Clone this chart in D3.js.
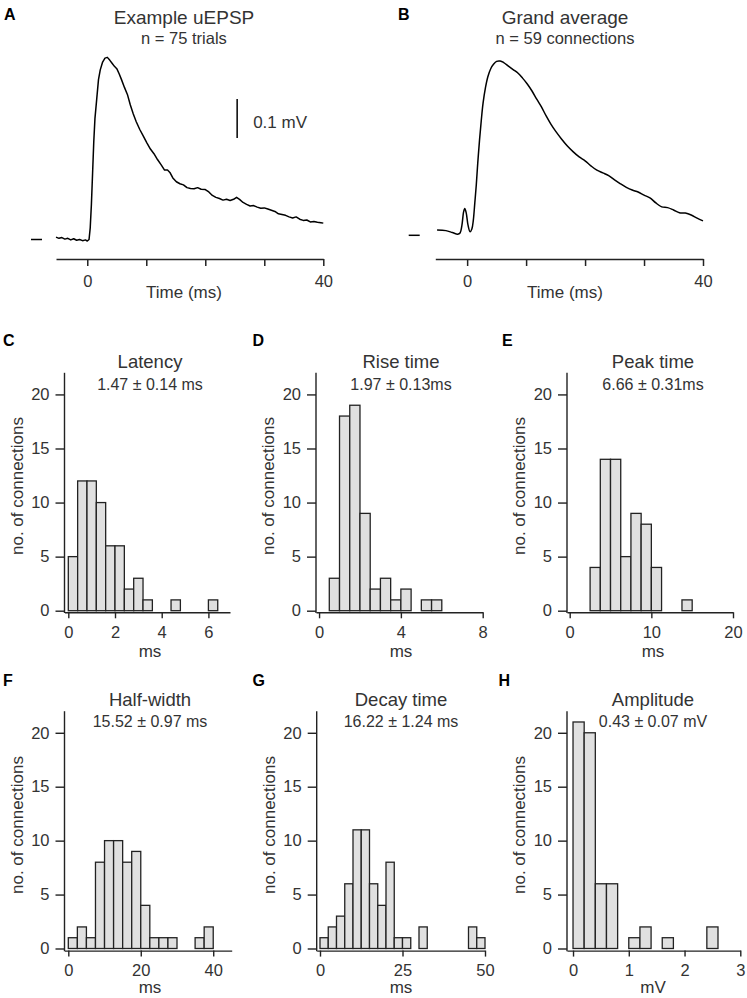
<!DOCTYPE html>
<html><head><meta charset="utf-8">
<script src="https://cdn.jsdelivr.net/npm/d3@7/dist/d3.min.js"></script>
<style>
body{margin:0;background:#fff}
text{font-family:"Liberation Sans",Arial,Helvetica,sans-serif;fill:#333}
</style>
</head><body>
<svg id="chart" width="747" height="998"></svg>
<script>
// ---------- DATA ----------
// Panel A: example uEPSP (time ms, mV)
const traceATime = [-5.3,-4.8,-4.3,-3.8,-3.3,-2.8,-2.3,-1.8,-1.3,-0.8,-0.3,0.0,0.3,0.5,0.7,0.9,1.1,1.3,1.6,1.9,2.2,2.6,3.0,3.4,3.8,4.2,4.6,5.0,5.4,5.8,6.3,6.8,7.3,7.8,8.3,8.9,9.5,10.1,10.7,11.3,11.9,12.5,13.1,13.6,14.0,14.5,15.1,15.7,16.3,16.9,17.5,18.1,18.7,19.3,20.0,20.6,21.2,21.8,22.4,23.0,23.6,24.2,24.8,25.3,25.8,26.4,27.0,27.6,28.2,28.8,29.4,30.0,30.6,31.2,31.8,32.4,33.0,33.6,34.2,34.8,35.4,36.0,36.6,37.2,37.8,38.4,39.0,39.6,40.0];
const traceAValue = [0.006,0.003,0.005,0.001,0.003,-0.001,0.002,-0.002,0.0,-0.003,-0.001,-0.004,0.0,0.03,0.09,0.17,0.25,0.31,0.36,0.41,0.435,0.455,0.465,0.467,0.46,0.452,0.444,0.438,0.425,0.41,0.39,0.372,0.345,0.322,0.302,0.282,0.265,0.248,0.232,0.22,0.205,0.192,0.178,0.178,0.172,0.158,0.148,0.143,0.14,0.133,0.131,0.13,0.133,0.129,0.128,0.122,0.113,0.108,0.105,0.101,0.103,0.1,0.103,0.108,0.103,0.095,0.09,0.086,0.087,0.083,0.08,0.081,0.078,0.075,0.072,0.066,0.064,0.062,0.058,0.055,0.058,0.052,0.049,0.05,0.045,0.046,0.044,0.043,0.042];
// Panel B: grand average
const traceBTime = [-5.1,-3.6,-2.5,-1.6,-1.2,-0.9,-0.6,-0.4,-0.15,0.15,0.5,0.8,1.05,1.3,1.55,1.8,2.1,2.4,2.7,3.1,3.5,4.0,4.5,5.0,5.6,6.2,7.0,7.8,8.6,9.4,10.2,11.0,11.8,12.6,13.4,14.2,15.0,16.0,17.0,18.0,19.0,20.0,21.0,22.0,23.0,24.0,25.0,26.0,27.0,28.0,29.0,30.0,31.0,32.0,33.0,34.0,35.0,36.0,37.0,38.0,39.0,40.0];
const traceBValue = [0.0136,0.012,0.007,0.003,0.006,0.024,0.06,0.069,0.057,0.026,0.009,0.016,0.039,0.083,0.129,0.185,0.244,0.295,0.339,0.378,0.406,0.427,0.439,0.446,0.447,0.443,0.434,0.425,0.416,0.403,0.388,0.37,0.349,0.329,0.306,0.285,0.267,0.247,0.229,0.214,0.201,0.191,0.178,0.167,0.16,0.153,0.142,0.132,0.123,0.116,0.111,0.103,0.096,0.083,0.073,0.071,0.065,0.058,0.057,0.052,0.044,0.037];
const timeTicks = [0,10,20,30,40];
const scaleBarValues = [0.26,0.36];   // 0.1 mV
const scaleBarTime = 25.4;

// Histograms: counts per bin, first bin start, bin width
const latencyCounts = [5,12,12,10,6,6,2,3,1,0,0,1,0,0,0,1];
const latencyStart = 0, latencyWidth = 0.4, latencyTicks = [0,2,4,6];
const riseCounts = [3,18,19,9,2,3,1,2,0,1,1];
const riseStart = 0.5, riseWidth = 0.5, riseTicks = [0,4,8];
const peakCounts = [4,14,14,5,9,8,4,0,0,1];
const peakStart = 2.5, peakWidth = 1.25, peakTicks = [0,10,20];
const halfCounts = [1,2,1,8,10,10,8,9,4,1,1,1,0,0,1,2];
const halfStart = 0, halfWidth = 2.5, halfTicks = [0,20,40];
const decayCounts = [1,2,3,6,11,11,6,4,8,1,1,0,2,0,0,0,0,0,2,1];
const decayStart = 0, decayWidth = 2.5, decayTicks = [0,25,50];
const ampCounts = [21,20,6,6,0,1,2,0,1,0,0,0,2];
const ampStart = 0, ampWidth = 0.2, ampTicks = [0,1,2,3];
const countTicks = [0,5,10,15,20];

// ---------- DRAW ----------
const svg = d3.select('#chart');
const INK = '#222';
const FONT = '"Liberation Sans",Arial,Helvetica,sans-serif';
const fmt = d3.format('~g');

function letter(t, x, y){
  svg.append('text').attr('x',x).attr('y',y).text(t)
    .style('font-weight','bold').style('font-size','16px').style('fill','#000');
}
function ctext(t, x, y, size){
  return svg.append('text').attr('x',x).attr('y',y).attr('text-anchor','middle')
    .style('font-size', size+'px').text(t);
}

// trace panels
function tracePanel(o){
  const x = d3.scaleLinear().domain(o.xd).range(o.xr);
  const y = d3.scaleLinear().domain([0,0.5]).range([o.y0, o.y0-0.5*390]);
  letter(o.letter, o.lx, 19.5);
  ctext(o.title, o.cx, 23.5, 19);
  ctext(o.sub, o.cx, 44, 16.5);
  const g = svg.append('g');
  const pts = o.t.map((t,i)=>[t,o.v[i]]);
  g.append('path').datum(pts)
    .attr('d', d3.line().x(d=>x(d[0])).y(d=>y(d[1])).curve(o.curve))
    .attr('fill','none').attr('stroke','#000').attr('stroke-width',1.5).attr('stroke-linejoin','round');
  // baseline marker
  g.append('line').attr('x1',o.mx[0]).attr('x2',o.mx[1]).attr('y1',y(0)).attr('y2',y(0))
    .attr('stroke','#000').attr('stroke-width',1.5);
  const ax = g.append('g').attr('transform',`translate(0,${o.axisY})`)
    .call(d3.axisBottom(x).tickValues(timeTicks).tickSize(7).tickSizeOuter(0).tickPadding(9)
      .tickFormat(d=> (d===0||d===40)? d : ''));
  ax.select('.domain').attr('stroke',INK).attr('stroke-width',1.5);
  ax.selectAll('.tick line').attr('stroke',INK).attr('stroke-width',1.5);
  ax.selectAll('.tick text').style('font-size','16.5px').style('font-family',FONT).style('fill','#333');
  ctext('Time (ms)', o.cx, 297.5, 17);
  if(o.scaleBar){
    g.append('line').attr('x1',x(scaleBarTime)).attr('x2',x(scaleBarTime))
      .attr('y1',y(scaleBarValues[0])).attr('y2',y(scaleBarValues[1]))
      .attr('stroke','#000').attr('stroke-width',1.5);
    svg.append('text').attr('x',x(scaleBarTime)+16).attr('y',127.5).style('font-size','17px').text('0.1 mV');
  }
}
tracePanel({letter:'A', lx:4, cx:184, title:'Example uEPSP', sub:'n = 75 trials',
  t:traceATime, v:traceAValue, xd:[-5.3,40], xr:[56,323.3], y0:239.5, axisY:259,
  mx:[31,42], curve:d3.curveLinear, scaleBar:true});
tracePanel({letter:'B', lx:398, cx:565, title:'Grand average', sub:'n = 59 connections',
  t:traceBTime, v:traceBValue, xd:[-5.4,40], xr:[435.3,703], y0:235.3, axisY:259,
  mx:[408.7,419.7], curve:d3.curveCatmullRom, scaleBar:false});

// histogram panels
const hists = [
  {letter:'C', title:'Latency', sub:'1.47 \u00b1 0.14 ms', counts:latencyCounts, start:latencyStart, width:latencyWidth, ticks:latencyTicks, unit:'ms', xd:[-0.163,6.925], xr:[64.5,230], cx:150, lx:3, row:0},
  {letter:'D', title:'Rise time', sub:'1.97 \u00b1 0.13ms', counts:riseCounts, start:riseStart, width:riseWidth, ticks:riseTicks, unit:'ms', xd:[-0.15,8.0], xr:[316,482.7], cx:401, lx:252.5, row:0},
  {letter:'E', title:'Peak time', sub:'6.66 \u00b1 0.31ms', counts:peakCounts, start:peakStart, width:peakWidth, ticks:peakTicks, unit:'ms', xd:[-0.33,20], xr:[567,733], cx:653, lx:502, row:0},
  {letter:'F', title:'Half-width', sub:'15.52 \u00b1 0.97 ms', counts:halfCounts, start:halfStart, width:halfWidth, ticks:halfTicks, unit:'ms', xd:[-1.05,45.1], xr:[64.5,231.7], cx:150, lx:3, row:1},
  {letter:'G', title:'Decay time', sub:'16.22 \u00b1 1.24 ms', counts:decayCounts, start:decayStart, width:decayWidth, ticks:decayTicks, unit:'ms', xd:[-1,50], xr:[316.7,485], cx:401, lx:252.5, row:1},
  {letter:'H', title:'Amplitude', sub:'0.43 \u00b1 0.07 mV', counts:ampCounts, start:ampStart, width:ampWidth, ticks:ampTicks, unit:'mV', xd:[-0.108,3], xr:[567,740.3], cx:653, lx:498.5, row:1}
];
const rows = [
  {y0:610.7, top:372.8, axisY:612.3, letterY:346, titleY:367.5, subY:389.5, labelY:657, ylabC:486},
  {y0:948.5, top:711.2, axisY:950.6, letterY:686, titleY:705.5, subY:726.5, labelY:993, ylabC:825}
];
hists.forEach(h=>{
  const r = rows[h.row];
  const x = d3.scaleLinear().domain(h.xd).range(h.xr);
  const y = d3.scaleLinear().domain([0,22]).range([r.y0, r.top]);
  const g = svg.append('g');
  letter(h.letter, h.lx, r.letterY);
  ctext(h.title, h.cx, r.titleY, 18.5);
  ctext(h.sub, h.cx, r.subY, 16);
  const bins = h.counts.map((c,i)=>({x0:h.start+i*h.width, x1:h.start+(i+1)*h.width, c}))
    .filter(b=>b.c>0);
  g.selectAll('rect').data(bins).join('rect')
    .attr('x',b=>x(b.x0)).attr('width',b=>x(b.x1)-x(b.x0))
    .attr('y',b=>y(b.c)).attr('height',b=>y(0)-y(b.c))
    .attr('fill','#e0e0e0').attr('stroke',INK).attr('stroke-width',1.3);
  // y axis
  const ya = g.append('g').attr('transform',`translate(${h.xr[0]},0)`)
    .call(d3.axisLeft(y).tickValues(countTicks).tickSize(9).tickPadding(6).tickSizeOuter(0).tickFormat(fmt));
  ya.select('.domain').remove();
  ya.selectAll('.tick line').attr('stroke',INK).attr('stroke-width',1.4);
  ya.selectAll('.tick text').style('font-size','16.5px').style('font-family',FONT).style('fill','#333');
  g.append('line').attr('x1',h.xr[0]).attr('x2',h.xr[0]).attr('y1',r.top).attr('y2',r.axisY+0.7)
    .attr('stroke',INK).attr('stroke-width',1.4);
  // x axis
  const xa = g.append('g').attr('transform',`translate(0,${r.axisY})`)
    .call(d3.axisBottom(x).tickValues(h.ticks).tickSize(6).tickPadding(8).tickSizeOuter(0).tickFormat(fmt));
  xa.select('.domain').attr('stroke',INK).attr('stroke-width',1.4);
  xa.selectAll('.tick line').attr('stroke',INK).attr('stroke-width',1.4);
  xa.selectAll('.tick text').style('font-size','16.5px').style('font-family',FONT).style('fill','#333');
  ctext(h.unit, h.cx, r.labelY, 17);
  svg.append('text').attr('transform',`translate(${h.xr[0]-42},${r.ylabC}) rotate(-90)`)
    .attr('text-anchor','middle').style('font-size','17px').text('no. of connections');
});
</script>
</body></html>
